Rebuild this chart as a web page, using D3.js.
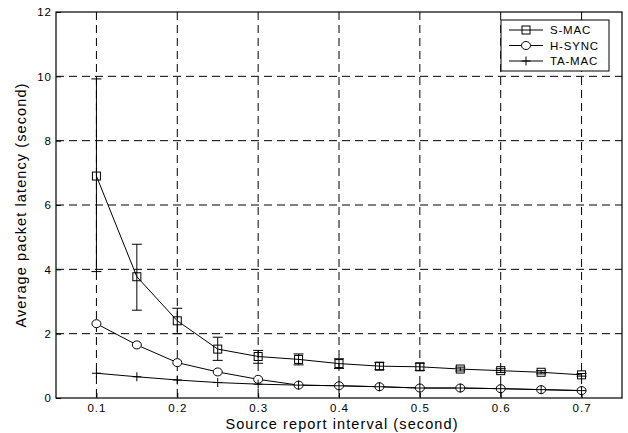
<!DOCTYPE html>
<html>
<head>
<meta charset="utf-8">
<script src="https://cdn.jsdelivr.net/npm/d3@7"></script>
<style>
  body { margin: 0; background: #fff; }
  text { font-family: "Liberation Sans", Arial, sans-serif; fill: #000; }
</style>
</head>
<body>
<div id="chart"></div>
<script>
// source report interval (s)
var intervals = [0.1, 0.15, 0.2, 0.25, 0.3, 0.35, 0.4, 0.45, 0.5, 0.55, 0.6, 0.65, 0.7];

// S-MAC mean latency and error bar limits
var smac = [6.9, 3.77, 2.4, 1.52, 1.29, 1.2, 1.07, 0.99, 0.97, 0.9, 0.85, 0.8, 0.72];
var smacHi = [9.92, 4.78, 2.79, 1.89, 1.48, 1.37, 1.22, 1.1, 1.08, 0.96, 0.91, 0.85, 0.76];
var smacLo = [3.93, 2.73, 2.0, 1.17, 1.08, 1.03, 0.92, 0.88, 0.86, 0.84, 0.79, 0.75, 0.68];

var hsync = [2.31, 1.65, 1.1, 0.81, 0.58, 0.4, 0.38, 0.35, 0.31, 0.31, 0.29, 0.26, 0.23];
var tamac = [0.77, 0.66, 0.56, 0.48, 0.43, 0.4, 0.38, 0.35, 0.31, 0.31, 0.29, 0.26, 0.23];

var xTicks = [0.1, 0.2, 0.3, 0.4, 0.5, 0.6, 0.7];
var yTicks = [0, 2, 4, 6, 8, 10, 12];
var seriesNames = ["S-MAC", "H-SYNC", "TA-MAC"];

var W = 628, H = 433;
var margin = {top: 12, right: 6, bottom: 35, left: 56};
var width = W - margin.left - margin.right,
    height = H - margin.top - margin.bottom;

var svg = d3.select("#chart").append("svg")
    .attr("width", W)
    .attr("height", H);

var g = svg.append("g")
    .attr("transform", "translate(" + margin.left + "," + margin.top + ")");

var x = d3.scaleLinear().domain([0.05, 0.75]).range([0, width]);
var y = d3.scaleLinear().domain([0, 12]).range([height, 0]);

// grid
g.append("g").selectAll("line")
    .data(xTicks)
    .enter().append("line")
    .attr("x1", function (d) { return x(d); })
    .attr("x2", function (d) { return x(d); })
    .attr("y1", 0).attr("y2", height)
    .attr("stroke", "#000").attr("stroke-width", 1)
    .attr("stroke-dasharray", "8,5");

g.append("g").selectAll("line")
    .data(yTicks.slice(1, -1))
    .enter().append("line")
    .attr("x1", 0).attr("x2", width)
    .attr("y1", function (d) { return y(d); })
    .attr("y2", function (d) { return y(d); })
    .attr("stroke", "#000").attr("stroke-width", 1)
    .attr("stroke-dasharray", "8,5");

// axes
var xAxis = d3.axisBottom(x).tickValues(xTicks).tickSizeInner(-5).tickSizeOuter(0)
    .tickPadding(6).tickFormat(d3.format(".1f"));
var yAxis = d3.axisLeft(y).tickValues(yTicks).tickSizeInner(-5).tickSizeOuter(0)
    .tickPadding(4).tickFormat(d3.format("d"));

g.append("g").attr("transform", "translate(0," + height + ")").call(xAxis)
    .call(function (s) { s.select(".domain").remove(); })
    .selectAll("text").style("font-size", "11.5px").style("letter-spacing", "1px");
g.append("g").call(yAxis)
    .call(function (s) { s.select(".domain").remove(); })
    .selectAll("text").style("font-size", "11.5px").style("letter-spacing", "1px");

// box
g.append("rect")
    .attr("width", width).attr("height", height)
    .attr("fill", "none").attr("stroke", "#000").attr("stroke-width", 1.2);

// labels
svg.append("text")
    .attr("x", margin.left + width / 2 + 3).attr("y", H - 4)
    .attr("text-anchor", "middle").style("font-size", "14.5px")
    .style("letter-spacing", "1.1px")
    .text("Source report interval (second)");
svg.append("text")
    .attr("transform", "translate(26," + (margin.top + height / 2) + ") rotate(-90)")
    .attr("text-anchor", "middle").style("font-size", "14.5px")
    .style("letter-spacing", "1.1px")
    .text("Average packet latency (second)");

var line = d3.line()
    .x(function (d, i) { return x(intervals[i]); })
    .y(function (d) { return y(d); });

// error bars for S-MAC
var eb = g.append("g").attr("stroke", "#000").attr("stroke-width", 1);
intervals.forEach(function (t, i) {
    var cx = x(t);
    eb.append("line").attr("x1", cx).attr("x2", cx)
        .attr("y1", y(smacHi[i])).attr("y2", y(smacLo[i]));
    eb.append("line").attr("x1", cx - 5).attr("x2", cx + 5)
        .attr("y1", y(smacHi[i])).attr("y2", y(smacHi[i]));
    eb.append("line").attr("x1", cx - 5).attr("x2", cx + 5)
        .attr("y1", y(smacLo[i])).attr("y2", y(smacLo[i]));
});

[smac, hsync, tamac].forEach(function (s) {
    g.append("path").datum(s)
        .attr("d", line)
        .attr("fill", "none").attr("stroke", "#000").attr("stroke-width", 1);
});

function drawMarker(sel, kind, cx, cy) {
    if (kind === 0) {
        sel.append("rect").attr("x", cx - 4).attr("y", cy - 4)
            .attr("width", 8).attr("height", 8)
            .attr("fill", "none").attr("stroke", "#000").attr("stroke-width", 1);
    } else if (kind === 1) {
        sel.append("ellipse").attr("cx", cx).attr("cy", cy)
            .attr("rx", 4.5).attr("ry", 4)
            .attr("fill", "#fff").attr("stroke", "#000").attr("stroke-width", 1);
    } else {
        sel.append("line").attr("x1", cx - 4.5).attr("x2", cx + 4.5)
            .attr("y1", cy).attr("y2", cy).attr("stroke", "#000");
        sel.append("line").attr("x1", cx).attr("x2", cx)
            .attr("y1", cy - 4.5).attr("y2", cy + 4.5).attr("stroke", "#000");
    }
}

var mk = g.append("g");
[smac, hsync, tamac].forEach(function (s, k) {
    s.forEach(function (v, i) {
        drawMarker(mk, k, x(intervals[i]), y(v));
    });
});

// legend
var lg = svg.append("g").attr("transform", "translate(501,20)");
lg.append("rect").attr("width", 108).attr("height", 51)
    .attr("fill", "#fff").attr("stroke", "#000").attr("stroke-width", 1);
seriesNames.forEach(function (name, k) {
    var ly = 10 + k * 15.5;
    lg.append("line").attr("x1", 8).attr("x2", 42)
        .attr("y1", ly).attr("y2", ly).attr("stroke", "#000");
    drawMarker(lg, k, 25, ly);
    lg.append("text").attr("x", 49).attr("y", ly + 4)
        .style("font-size", "11.5px").style("letter-spacing", "0.8px").text(name);
});
</script>
</body>
</html>
